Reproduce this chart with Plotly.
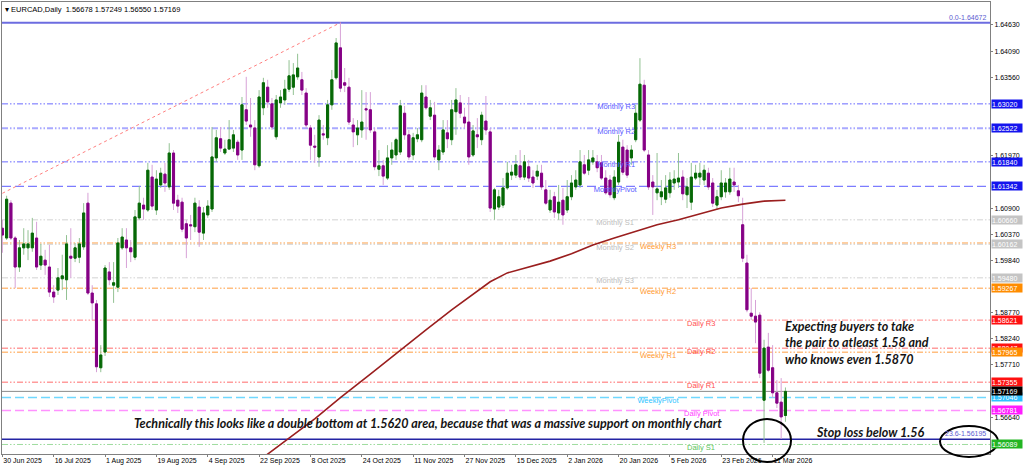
import plotly.graph_objects as go
import pandas as pd

# ---------------- data ----------------
chart_title = "EURCAD,Daily  1.56678 1.57249 1.56550 1.57169"

# trading sessions shown (broker skips 25 Dec and 1 Jan)
sessions = [d for d in pd.bdate_range("2025-06-30", "2026-03-16")
            if (d.month, d.day) not in [(12, 25), (1, 1)]]
session_labels = [f"{d.day} {d.strftime('%b %Y')}" for d in sessions]

open_ = [
    1.6049, 1.6029, 1.6100, 1.6029, 1.5970, 1.6009, 1.6009, 1.6009, 1.6029, 1.5974,
    1.5984, 1.5970, 1.5919, 1.5923, 1.5946, 1.5944, 1.5992, 1.5988, 1.5990, 1.6011,
    1.6100, 1.5917, 1.5895, 1.5765, 1.5797, 1.5960, 1.5933, 1.5929, 1.6009, 1.6025,
    1.6009, 1.5990, 1.6070, 1.6096, 1.6086, 1.6153, 1.6086, 1.6137, 1.6159, 1.6133,
    1.6202, 1.6106, 1.6102, 1.6058, 1.6056, 1.6052, 1.6092, 1.6039, 1.6076, 1.6088,
    1.6192, 1.6231, 1.6202, 1.6210, 1.6212, 1.6224, 1.6208, 1.6290, 1.6259, 1.6253,
    1.6176, 1.6294, 1.6336, 1.6302, 1.6235, 1.6304, 1.6310, 1.6332, 1.6336, 1.6357,
    1.6351, 1.6324, 1.6253, 1.6216, 1.6194, 1.6241, 1.6233, 1.6300, 1.6355, 1.6416,
    1.6345, 1.6336, 1.6259, 1.6239, 1.6249, 1.6292, 1.6290, 1.6245, 1.6169, 1.6176,
    1.6151, 1.6192, 1.6198, 1.6204, 1.6283, 1.6239, 1.6198, 1.6231, 1.6229, 1.6316,
    1.6277, 1.6279, 1.6188, 1.6204, 1.6243, 1.6229, 1.6286, 1.6304, 1.6275, 1.6265,
    1.6198, 1.6239, 1.6229, 1.6267, 1.6245, 1.6088, 1.6092, 1.6096, 1.6131, 1.6157,
    1.6157, 1.6176, 1.6153, 1.6174, 1.6153, 1.6155, 1.6161, 1.6127, 1.6086, 1.6113,
    1.6080, 1.6106, 1.6086, 1.6113, 1.6133, 1.6137, 1.6178, 1.6167, 1.6184, 1.6184,
    1.6182, 1.6151, 1.6147, 1.6111, 1.6143, 1.6214, 1.6208, 1.6192, 1.6229, 1.6269,
    1.6340, 1.6198, 1.6143, 1.6121, 1.6113, 1.6108, 1.6121, 1.6141, 1.6143, 1.6153,
    1.6117, 1.6102, 1.6151, 1.6153, 1.6147, 1.6161, 1.6141, 1.6096, 1.6113, 1.6123,
    1.6123, 1.6143, 1.6125, 1.6056, 1.5978, 1.5876, 1.5870, 1.5872, 1.5699, 1.5807,
    1.5765, 1.5714, 1.5695, 1.56678,
]
high = [
    1.6066, 1.6115, 1.6106, 1.6033, 1.6025, 1.6049, 1.6045, 1.6070, 1.6062, 1.6017,
    1.6005, 1.6015, 1.5933, 1.5968, 1.5995, 1.6035, 1.6049, 1.6019, 1.6029, 1.6100,
    1.6121, 1.5933, 1.5903, 1.5811, 1.5974, 1.5980, 1.5980, 1.6029, 1.6049, 1.6049,
    1.6025, 1.6086, 1.6135, 1.6111, 1.6182, 1.6178, 1.6167, 1.6172, 1.6182, 1.6222,
    1.6208, 1.6117, 1.6111, 1.6066, 1.6076, 1.6111, 1.6106, 1.6092, 1.6106, 1.6255,
    1.6249, 1.6255, 1.6229, 1.6269, 1.6249, 1.6229, 1.6316, 1.6357, 1.6314, 1.6269,
    1.6330, 1.6355, 1.6351, 1.6314, 1.6320, 1.6330, 1.6351, 1.6391, 1.6385, 1.6404,
    1.6367, 1.6334, 1.6259, 1.6239, 1.6279, 1.6259, 1.6310, 1.6371, 1.6436, 1.64672,
    1.6375, 1.6355, 1.6273, 1.6269, 1.6330, 1.6326, 1.6326, 1.6253, 1.6208, 1.6188,
    1.6218, 1.6224, 1.6233, 1.6310, 1.6298, 1.6249, 1.6243, 1.6253, 1.6340, 1.6340,
    1.6310, 1.6306, 1.6218, 1.6269, 1.6269, 1.6310, 1.6334, 1.6320, 1.6294, 1.6316,
    1.6259, 1.6273, 1.6286, 1.6318, 1.6253, 1.6131, 1.6127, 1.6151, 1.6184, 1.6178,
    1.6198, 1.6208, 1.6198, 1.6188, 1.6167, 1.6178, 1.6178, 1.6147, 1.6127, 1.6123,
    1.6137, 1.6131, 1.6147, 1.6157, 1.6167, 1.6208, 1.6198, 1.6208, 1.6208, 1.6198,
    1.6198, 1.6167, 1.6157, 1.6167, 1.6239, 1.6229, 1.6218, 1.6218, 1.6300, 1.6395,
    1.6351, 1.6208, 1.6157, 1.6202, 1.6147, 1.6157, 1.6163, 1.6167, 1.6202, 1.6167,
    1.6151, 1.6182, 1.6178, 1.6182, 1.6178, 1.6172, 1.6151, 1.6127, 1.6167, 1.6151,
    1.6172, 1.6172, 1.6137, 1.6111, 1.5995, 1.5927, 1.5903, 1.5878, 1.5822, 1.5836,
    1.5811, 1.5740, 1.5744, 1.57249,
]
low = [
    1.5999, 1.6025, 1.6025, 1.5927, 1.5960, 1.5995, 1.5984, 1.6001, 1.5964, 1.5964,
    1.5954, 1.5909, 1.5897, 1.5913, 1.5923, 1.5903, 1.5948, 1.5980, 1.5978, 1.6005,
    1.5913, 1.5862, 1.5756, 1.5756, 1.5789, 1.5933, 1.5897, 1.5919, 1.6005, 1.5968,
    1.5980, 1.5984, 1.6066, 1.6066, 1.6082, 1.6086, 1.6076, 1.6131, 1.6123, 1.6127,
    1.6086, 1.6080, 1.6041, 1.5988, 1.6025, 1.6041, 1.6011, 1.6025, 1.6070, 1.6082,
    1.6184, 1.6204, 1.6198, 1.6208, 1.6204, 1.6188, 1.6188, 1.6259, 1.6235, 1.6167,
    1.6172, 1.6279, 1.6294, 1.6249, 1.6229, 1.6294, 1.6300, 1.6326, 1.6320, 1.6351,
    1.6320, 1.6253, 1.6188, 1.6182, 1.6174, 1.6229, 1.6218, 1.6290, 1.6351, 1.6326,
    1.6326, 1.6259, 1.6214, 1.6218, 1.6233, 1.6229, 1.6243, 1.6167, 1.6155, 1.6137,
    1.6147, 1.6178, 1.6188, 1.6198, 1.6229, 1.6188, 1.6188, 1.6224, 1.6224, 1.6290,
    1.6269, 1.6188, 1.6167, 1.6198, 1.6212, 1.6218, 1.6239, 1.6273, 1.6253, 1.6178,
    1.6194, 1.6212, 1.6218, 1.6239, 1.6082, 1.6066, 1.6086, 1.6090, 1.6127, 1.6147,
    1.6151, 1.6147, 1.6147, 1.6143, 1.6131, 1.6147, 1.6127, 1.6096, 1.6080, 1.6070,
    1.6066, 1.6056, 1.6080, 1.6106, 1.6127, 1.6131, 1.6157, 1.6157, 1.6178, 1.6163,
    1.6147, 1.6117, 1.6111, 1.6106, 1.6137, 1.6157, 1.6151, 1.6178, 1.6224, 1.6265,
    1.6204, 1.6127, 1.6076, 1.6106, 1.6096, 1.6100, 1.6111, 1.6127, 1.6131, 1.6106,
    1.6090, 1.6086, 1.6147, 1.6137, 1.6137, 1.6127, 1.6092, 1.6086, 1.6106, 1.6111,
    1.6117, 1.6123, 1.6102, 1.5980, 1.5878, 1.5862, 1.5815, 1.5744, 1.5612, 1.5756,
    1.5704, 1.5683, 1.5620, 1.56550,
]
close = [
    1.6035, 1.6108, 1.6029, 1.5970, 1.6009, 1.6017, 1.6017, 1.6039, 1.5970, 1.5992,
    1.5974, 1.5919, 1.5909, 1.5948, 1.5952, 1.6017, 1.5988, 1.6009, 1.6017, 1.6080,
    1.5917, 1.5897, 1.5767, 1.5791, 1.5968, 1.5944, 1.5938, 1.6019, 1.6031, 1.6009,
    1.6001, 1.6072, 1.6100, 1.6088, 1.6167, 1.6094, 1.6149, 1.6161, 1.6141, 1.6202,
    1.6100, 1.6094, 1.6047, 1.6029, 1.6054, 1.6100, 1.6041, 1.6080, 1.6094, 1.6194,
    1.6233, 1.6212, 1.6210, 1.6229, 1.6239, 1.6198, 1.6300, 1.6267, 1.6255, 1.6178,
    1.6316, 1.6345, 1.6306, 1.6255, 1.6310, 1.6316, 1.6332, 1.6359, 1.6361, 1.6375,
    1.6330, 1.6259, 1.6218, 1.6214, 1.6269, 1.6239, 1.6300, 1.6351, 1.6426, 1.6334,
    1.6340, 1.6265, 1.6245, 1.6253, 1.6265, 1.6290, 1.6249, 1.6174, 1.6176, 1.6155,
    1.6192, 1.6208, 1.6229, 1.6298, 1.6239, 1.6194, 1.6233, 1.6239, 1.6324, 1.6294,
    1.6294, 1.6194, 1.6208, 1.6249, 1.6231, 1.6290, 1.6310, 1.6283, 1.6263, 1.6194,
    1.6247, 1.6235, 1.6279, 1.6249, 1.6090, 1.6127, 1.6113, 1.6131, 1.6161, 1.6163,
    1.6178, 1.6153, 1.6184, 1.6151, 1.6141, 1.6165, 1.6133, 1.6100, 1.6106, 1.6082,
    1.6102, 1.6076, 1.6113, 1.6141, 1.6147, 1.6184, 1.6161, 1.6188, 1.6192, 1.6172,
    1.6151, 1.6121, 1.6117, 1.6153, 1.6224, 1.6163, 1.6157, 1.6208, 1.6283, 1.6342,
    1.6208, 1.6133, 1.6133, 1.6129, 1.6123, 1.6131, 1.6147, 1.6149, 1.6151, 1.6119,
    1.6133, 1.6153, 1.6161, 1.6161, 1.6167, 1.6133, 1.6100, 1.6113, 1.6141, 1.6141,
    1.6149, 1.6137, 1.6115, 1.5988, 1.5883, 1.5870, 1.5858, 1.5754, 1.5805, 1.5760,
    1.5714, 1.5693, 1.5665, 1.57169,
]

# moving average, read at selected sessions (session number, value)
ma_session = [58, 62, 67, 73, 79, 86, 93, 99, 105, 110, 114, 118, 123, 128, 133,
              138, 143, 148, 153, 158, 163, 168, 173, 178, 183]
ma_value = [1.5563, 1.5590, 1.5622, 1.5661, 1.5704, 1.5752, 1.5801, 1.5842, 1.5883,
            1.5915, 1.5940, 1.5958, 1.5970, 1.5982, 1.5997, 1.6015, 1.6029, 1.6043,
            1.6056, 1.6066, 1.6078, 1.6090, 1.6098, 1.6104, 1.6106]

# fibonacci diagonal (from off-chart start to the swing high)
fib_diag_session = [-5, 79]
fib_diag_value = [1.6098, 1.64672]
fib_levels = [("0.0", 1.64672), ("23.6", 1.56195)]

level_names = ["Weekly R3", "Monthly R3", "Monthly R2", "Monthly R1", "MonthlyPivot",
               "Monthly S1", "Monthly S2", "Monthly S3", "Weekly R2", "Daily R3",
               "Daily R2", "Weekly R1", "Daily R1", "WeeklyPivot", "Daily Pivot",
               "Daily S1"]
level_values = [1.60190, 1.63020, 1.62522, 1.61840, 1.61342, 1.60660, 1.60162, 1.59480,
                1.59267, 1.58621, 1.58047, 1.57965, 1.57355, 1.57046, 1.56781, 1.56089]
last_price = 1.57169

x_tick_labels = ["30 Jun 2025", "16 Jul 2025", "1 Aug 2025", "19 Aug 2025", "4 Sep 2025",
                 "22 Sep 2025", "8 Oct 2025", "24 Oct 2025", "11 Nov 2025", "27 Nov 2025",
                 "15 Dec 2025", "2 Jan 2026", "20 Jan 2026", "5 Feb 2026", "23 Feb 2026",
                 "11 Mar 2026"]
# price-scale ticks that are not hidden behind the level boxes
price_ticks = [1.64630, 1.64090, 1.63560, 1.61970, 1.60900, 1.60370, 1.59840,
               1.58770, 1.58240, 1.57710, 1.56640]

note_main = "Technically this looks like a double bottom at 1.5620 area, because that was a massive support on monthly chart"
note_right = ["Expecting buyers to take", "the pair to atleast 1.58 and", "who knows even 1.5870"]
note_stop = "Stop loss below 1.56"

n = len(sessions)
assert len(open_) == len(high) == len(low) == len(close) == n, (n, len(open_), len(high), len(low), len(close))
bars = list(range(n))

# ---------------- styles ----------------
FONT = "Liberation Sans"
DDOT = "6px,2px,1.5px,2px,1.5px,2px"
DASH = "9px,4px"


def level_style(name):
    if name.startswith("Monthly"):
        if name in ("Monthly S1", "Monthly S2", "Monthly S3"):
            return dict(line="#d2d2d2", w=1, dash=DDOT, txt="#bdbdbd", box="#c4c4c4", lx=138.8)
        if name == "MonthlyPivot":
            return dict(line="#7c7cff", w=1.3, dash=DASH, txt="#5a5aff", box="#1414ee", lx=138.2)
        if name == "Monthly R2":
            return dict(line="#a9a9ff", w=2, dash=DDOT, txt="#5a5aff", box="#1414ee", lx=139)
        return dict(line="#6a6aff", w=1, dash=DDOT, txt="#5a5aff", box="#1414ee", lx=139)
    if name.startswith("Weekly"):
        if name == "WeeklyPivot":
            return dict(line="#70d8ff", w=1.5, dash=DASH, txt="#30c4ff", box="#2ec2ff", lx=148.4)
        return dict(line="#ffbe80", w=1.6, dash=DDOT, txt="#ff9a30", box="#ff8c00", lx=149)
    if name == "Daily Pivot":
        return dict(line="#ff92ff", w=1.5, dash=DASH, txt="#ff40ff", box="#ff1cff", lx=159.3)
    if name == "Daily S1":
        return dict(line="#9edb9e", w=1, dash=DDOT, txt="#5cc45c", box="#22b522", lx=160)
    return dict(line="#ff9c9c", w=1.3, dash=DDOT, txt="#ff5050", box="#ff1010", lx=160)


# boxes on the price scale (Weekly R3 box sits fully under Monthly S2's)
boxed_levels = [nm for nm in level_names if nm != "Weekly R3"]

fig = go.Figure()

# level lines (behind candles)
for name, val in zip(level_names, level_values):
    st = level_style(name)
    fig.add_shape(type="line", xref="paper", x0=0, x1=1, yref="y", y0=val, y1=val,
                  layer="below", line=dict(color=st["line"], width=st["w"], dash=st["dash"]))
fig.add_shape(type="line", xref="paper", x0=0, x1=1, yref="y", y0=fib_levels[0][1], y1=fib_levels[0][1],
              layer="below", line=dict(color="#6c6ce0", width=2))
fig.add_shape(type="line", xref="paper", x0=0, x1=1, yref="y", y0=fib_levels[1][1], y1=fib_levels[1][1],
              layer="below", line=dict(color="#2424a4", width=1.6))
fig.add_shape(type="line", xref="paper", x0=0, x1=1, yref="y", y0=last_price, y1=last_price,
              layer="below", line=dict(color="#8a8a8a", width=1))

# level names (drawn as text traces so candles cover them)
for name, val in zip(level_names, level_values):
    st = level_style(name)
    fig.add_trace(go.Scatter(x=[st["lx"]], y=[val], mode="text", text=[name],
                             textposition="bottom right",
                             textfont=dict(family=FONT, size=7.5, color=st["txt"]),
                             hoverinfo="skip", showlegend=False))

# fibonacci diagonal
fig.add_trace(go.Scatter(x=fib_diag_session, y=fib_diag_value, mode="lines",
                         line=dict(color="#ff8080", width=1, dash="dot"),
                         hoverinfo="skip", showlegend=False))

# candles: wick layer then body layer
fig.add_trace(go.Candlestick(
    x=bars, open=open_, high=high, low=low, close=close,
    increasing=dict(line=dict(color="#93c293", width=1), fillcolor="#93c293"),
    decreasing=dict(line=dict(color="#d7a2d7", width=1), fillcolor="#d7a2d7"),
    whiskerwidth=0, showlegend=False, hoverinfo="skip"))
body_hi = [max(o, c) for o, c in zip(open_, close)]
body_lo = [min(o, c) for o, c in zip(open_, close)]
fig.add_trace(go.Candlestick(
    x=bars, open=open_, high=body_hi, low=body_lo, close=close,
    increasing=dict(line=dict(color="#066806", width=1), fillcolor="#066806"),
    decreasing=dict(line=dict(color="#850085", width=1), fillcolor="#850085"),
    whiskerwidth=0, showlegend=False, hoverinfo="skip"))

# moving average
fig.add_trace(go.Scatter(x=ma_session, y=ma_value, mode="lines",
                         line=dict(color="#9a1e1e", width=1.6),
                         hoverinfo="skip", showlegend=False))

# ---------------- annotations ----------------
ann = []
ann.append(dict(xref="paper", yref="paper", x=0.001, y=1, xanchor="left", yanchor="top",
                yshift=-1, text="▾ " + chart_title, showarrow=False,
                font=dict(family=FONT, size=7.5, color="#000000")))
for name, val in zip(level_names, level_values):
    if name not in boxed_levels:
        continue
    st = level_style(name)
    ann.append(dict(xref="paper", yref="y", x=1, y=val, xanchor="left", yanchor="middle",
                    xshift=1, text=f"{val:.5f}", showarrow=False, bgcolor=st["box"],
                    width=30, height=8, align="left", borderpad=0,
                    font=dict(family=FONT, size=7, color="#ffffff")))
ann.append(dict(xref="paper", yref="y", x=1, y=last_price, xanchor="left", yanchor="middle",
                xshift=1, text=f"{last_price:.5f}", showarrow=False, bgcolor="#000000",
                width=30, height=8, align="left", borderpad=0,
                font=dict(family=FONT, size=7, color="#ffffff")))
for lab, val in fib_levels:
    ann.append(dict(xref="paper", yref="y", x=0.998, y=val, xanchor="right", yanchor="bottom",
                    text=f"{lab}-{val:.5f}", showarrow=False,
                    font=dict(family=FONT, size=7, color="#5c5cd0")))
NOTE_FONT = dict(family="Lato", size=12.5, color="#141414")
ann.append(dict(xref="paper", yref="paper", x=0.1316, y=0.0664, xanchor="left", yanchor="middle",
                text="<b><i>" + note_main + "</i></b>", showarrow=False, font=NOTE_FONT))
ann.append(dict(xref="paper", yref="paper", x=0.7905, y=0.2456, xanchor="left", yanchor="middle",
                align="left", text="<b><i>" + "<br>".join(note_right) + "</i></b>",
                showarrow=False, font=NOTE_FONT))
ann.append(dict(xref="paper", yref="paper", x=0.8219, y=0.0465, xanchor="left", yanchor="middle",
                text="<b><i>" + note_stop + "</i></b>", showarrow=False, font=NOTE_FONT))

# circles drawn by the author
fig.add_shape(type="circle", xref="paper", yref="paper", x0=0.750, x1=0.7986, y0=-0.0177, y1=0.0774,
              line=dict(color="#000000", width=2), layer="above")
fig.add_shape(type="circle", xref="paper", yref="paper", x0=0.9494, x1=1.0081, y0=-0.0066, y1=0.0619,
              line=dict(color="#000000", width=2), layer="above")

tickvals = [session_labels.index(lbl) for lbl in x_tick_labels]

fig.update_layout(
    width=1024, height=467,
    margin=dict(l=2, r=34, t=2, b=13),
    paper_bgcolor="#ffffff", plot_bgcolor="#ffffff",
    showlegend=False,
    annotations=ann,
    font=dict(family=FONT, size=7, color="#000000"),
    xaxis=dict(range=[-0.08, 230.8], tickvals=tickvals, ticktext=x_tick_labels,
               ticklabelposition="outside right", ticks="outside", ticklen=2,
               tickcolor="#808080", showgrid=False, zeroline=False,
               showline=True, mirror=True, linecolor="#808080", linewidth=1,
               rangeslider=dict(visible=False), tickfont=dict(family=FONT, size=7)),
    yaxis=dict(side="right", range=[1.55895, 1.65093], tickvals=price_ticks,
               ticktext=[f"{v:.5f}" for v in price_ticks], ticks="outside", ticklen=2,
               tickcolor="#808080", showgrid=False, zeroline=False,
               showline=True, mirror=True, linecolor="#808080", linewidth=1,
               tickfont=dict(family=FONT, size=7)),
)

fig.write_html("out.html", config={"displayModeBar": False},
               post_script="document.body.style.margin='0';document.body.style.overflow='hidden';")
